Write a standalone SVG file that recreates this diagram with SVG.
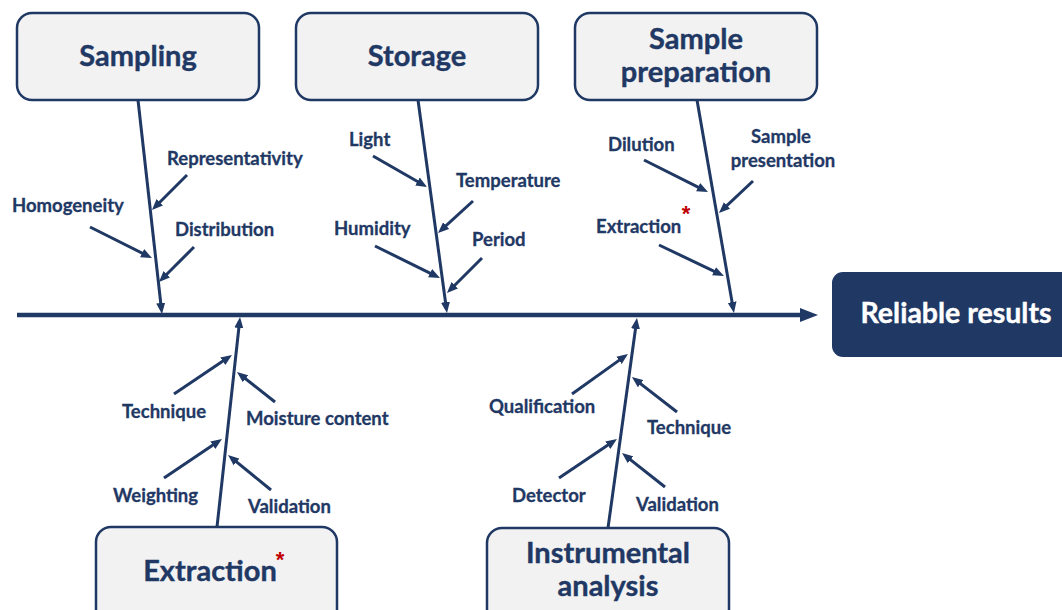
<svg xmlns="http://www.w3.org/2000/svg" width="1062" height="610" viewBox="0 0 1062 610">
  <style>
    .box { fill: #f2f2f2; stroke: #1f3864; stroke-width: 2.5; }
    .title { font-family: Lato, "Liberation Sans", sans-serif; font-weight: bold; font-size: 29px; fill: #1f3864; stroke: #1f3864; stroke-width: 0.4; text-anchor: middle; }
    .lbl { font-family: Lato, "Liberation Sans", sans-serif; font-weight: bold; font-size: 18.5px; fill: #1f3864; stroke: #1f3864; stroke-width: 0.3; }
    .bone { stroke: #1f3864; stroke-width: 3; fill: none; marker-end: url(#ah); }
    .twig { stroke: #1f3864; stroke-width: 3; fill: none; marker-end: url(#ah); }
    .star { font-family: "Liberation Sans", sans-serif; font-weight: bold; font-size: 22px; fill: #c00000; text-anchor: middle; }
  </style>
  <defs>
    <marker id="ah" markerUnits="userSpaceOnUse" markerWidth="11" markerHeight="10" refX="6" refY="5" orient="auto">
      <path d="M0,0.5 L11,5 L0,9.5 z" fill="#1f3864"/>
    </marker>
    <marker id="ahBig" markerUnits="userSpaceOnUse" markerWidth="18" markerHeight="16" refX="6" refY="8" orient="auto">
      <path d="M0,1 L18,8 L0,15 z" fill="#1f3864"/>
    </marker>
  </defs>

  <rect width="1062" height="610" fill="#ffffff"/>

  <!-- spine, bones and cause arrows -->
  <g id="connectors">
    <line x1="17" y1="315" x2="806" y2="315" stroke="#1f3864" stroke-width="4.5" marker-end="url(#ahBig)"/>

    <line class="bone" x1="138" y1="100" x2="161.4" y2="309"/>
    <line class="bone" x1="418" y1="100" x2="446.3" y2="308"/>
    <line class="bone" x1="697" y1="100" x2="733.1" y2="308"/>
    <line class="bone" x1="217" y1="527" x2="239.5" y2="322"/>
    <line class="bone" x1="608" y1="528" x2="636.3" y2="323"/>

    <line class="twig" x1="187" y1="175" x2="155.5" y2="206.5"/>
    <line class="twig" x1="90" y1="227" x2="147.5" y2="255.8"/>
    <line class="twig" x1="194" y1="247" x2="162.5" y2="278.5"/>

    <line class="twig" x1="373" y1="156" x2="422.7" y2="184.5"/>
    <line class="twig" x1="473" y1="201" x2="441.7" y2="229.6"/>
    <line class="twig" x1="375" y1="246" x2="435.5" y2="275.8"/>
    <line class="twig" x1="482" y1="258" x2="450.5" y2="289.5"/>

    <line class="twig" x1="644" y1="160" x2="703.5" y2="189.8"/>
    <line class="twig" x1="753" y1="181" x2="722.6" y2="209.6"/>
    <line class="twig" x1="659" y1="245" x2="719.5" y2="273.8"/>

    <line class="twig" x1="174" y1="394" x2="227.8" y2="357.8"/>
    <line class="twig" x1="275" y1="402" x2="240.9" y2="375.1"/>
    <line class="twig" x1="164" y1="478" x2="217.8" y2="441.8"/>
    <line class="twig" x1="271" y1="490" x2="231.9" y2="458.2"/>

    <line class="twig" x1="572" y1="394" x2="623.9" y2="356.9"/>
    <line class="twig" x1="677" y1="412" x2="635.9" y2="380.1"/>
    <line class="twig" x1="559" y1="478" x2="612.8" y2="441.8"/>
    <line class="twig" x1="665" y1="487" x2="625.9" y2="456.1"/>
  </g>

  <!-- cause labels -->
  <g id="labels-sampling">
    <text class="lbl" x="167" y="165">Representativity</text>
    <text class="lbl" x="12" y="212">Homogeneity</text>
    <text class="lbl" x="175" y="236">Distribution</text>
  </g>
  <g id="labels-storage">
    <text class="lbl" x="349" y="146">Light</text>
    <text class="lbl" x="456" y="187">Temperature</text>
    <text class="lbl" x="334" y="235">Humidity</text>
    <text class="lbl" x="472" y="246">Period</text>
  </g>
  <g id="labels-preparation">
    <text class="lbl" x="608" y="151">Dilution</text>
    <text class="lbl" x="781" y="143" text-anchor="middle">Sample</text>
    <text class="lbl" x="783" y="167" text-anchor="middle">presentation</text>
    <text class="lbl" x="596" y="233">Extraction</text>
    <text class="star" x="686" y="221">*</text>
  </g>
  <g id="labels-extraction">
    <text class="lbl" x="122" y="418">Technique</text>
    <text class="lbl" x="246" y="425">Moisture content</text>
    <text class="lbl" x="113" y="502">Weighting</text>
    <text class="lbl" x="248" y="513">Validation</text>
  </g>
  <g id="labels-instrumental">
    <text class="lbl" x="489" y="413">Qualification</text>
    <text class="lbl" x="647" y="434">Technique</text>
    <text class="lbl" x="512" y="502">Detector</text>
    <text class="lbl" x="636" y="511">Validation</text>
  </g>

  <!-- category nodes -->
  <g id="node-sampling">
    <rect class="box" x="17" y="13" width="242" height="87" rx="15"/>
    <text class="title" x="138" y="66">Sampling</text>
  </g>
  <g id="node-storage">
    <rect class="box" x="296" y="13" width="242" height="87" rx="15"/>
    <text class="title" x="417" y="66">Storage</text>
  </g>
  <g id="node-preparation">
    <rect class="box" x="575" y="13" width="242" height="87" rx="15"/>
    <text class="title" x="696" y="49">Sample</text>
    <text class="title" x="696" y="82">preparation</text>
  </g>
  <g id="node-extraction">
    <rect class="box" x="96" y="527" width="241" height="100" rx="15"/>
    <text class="title" x="210" y="581">Extraction</text>
    <text class="star" x="280" y="567">*</text>
  </g>
  <g id="node-instrumental">
    <rect class="box" x="487" y="528" width="242" height="100" rx="15"/>
    <text class="title" x="608" y="563">Instrumental</text>
    <text class="title" x="608" y="596">analysis</text>
  </g>

  <!-- effect -->
  <g id="node-result">
    <rect x="832" y="272" width="250" height="85" rx="11" fill="#1f3864"/>
    <text x="956" y="323" font-family="Lato, 'Liberation Sans', sans-serif" font-weight="bold" font-size="28.5" fill="#ffffff" stroke="#ffffff" stroke-width="0.4" text-anchor="middle">Reliable results</text>
  </g>
</svg>
